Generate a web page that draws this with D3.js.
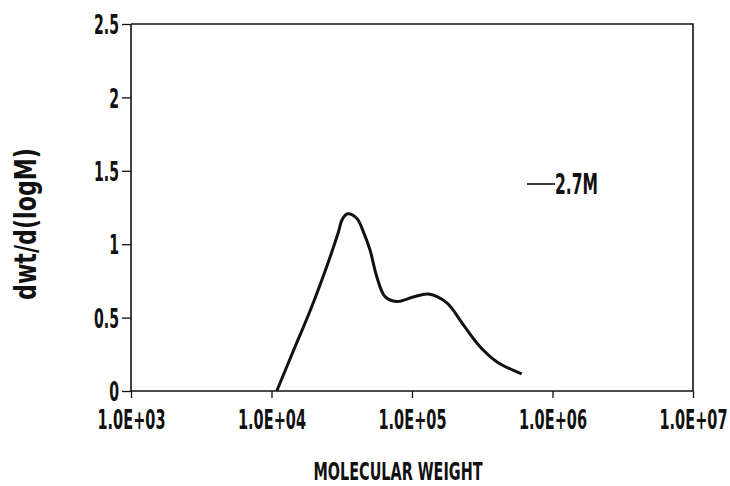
<!DOCTYPE html>
<html>
<head>
<meta charset="utf-8">
<script src="https://cdn.jsdelivr.net/npm/d3@7"></script>
<style>
body { margin: 0; background: #fff; }
text { font-family: "DejaVu Sans Condensed", "DejaVu Sans", sans-serif; fill: #111; }
</style>
</head>
<body>
<div class="gpc-plot"></div>
<script>
// molecular weight (M) and dwt/d(logM)
const molWeight = [1.09e4, 1.43e4, 1.88e4, 2.47e4, 2.98e4, 3.18e4, 3.47e4, 4.04e4, 4.50e4, 5.02e4, 5.61e4, 6.43e4, 7.78e4, 1.02e5, 1.31e5, 1.77e5, 2.32e5, 3.05e5, 4.01e5, 6.04e5];
const dwt = [0, 0.273, 0.545, 0.847, 1.076, 1.166, 1.207, 1.177, 1.086, 0.962, 0.78, 0.643, 0.61, 0.64, 0.66, 0.6, 0.45, 0.302, 0.2, 0.116];
const xTicks = [1e3, 1e4, 1e5, 1e6, 1e7];
const xTickLabels = ['1.0E+03', '1.0E+04', '1.0E+05', '1.0E+06', '1.0E+07'];
const yTicks = [0, 0.5, 1, 1.5, 2, 2.5];
const seriesName = '2.7M';

const width = 730;
const height = 486;
const margin = {top: 24, right: 37, bottom: 95, left: 131};

const svg = d3.select('.gpc-plot')
    .append('svg')
    .attr('width', width)
    .attr('height', height)

const x = d3.scaleLog()
    .domain([1e3, 1e7])
    .range([margin.left, width - margin.right])

const y = d3.scaleLinear()
    .domain([0, 2.5])
    .range([height - margin.bottom, margin.top])

// squeeze text so it looks like the narrow font of the original
function squeeze(sel, f) {
    sel.each(function () {
        const w = this.getComputedTextLength();
        d3.select(this).attr('textLength', w * f).attr('lengthAdjust', 'spacingAndGlyphs');
    })
}

// frame top + right
svg.append('path')
    .attr('d', `M${x(1e3)},${y(2.5)}H${x(1e7)}V${y(0)}`)
    .attr('fill', 'none')
    .attr('stroke', '#111')
    .attr('stroke-width', 1.6)

const xAxis = svg.append('g')
    .attr('transform', `translate(0,${y(0)})`)
    .call(d3.axisBottom(x).tickValues(xTicks).tickSize(7).tickPadding(12)
        .tickFormat((d, i) => xTickLabels[i]))

const yAxis = svg.append('g')
    .attr('transform', `translate(${x(1e3)},0)`)
    .call(d3.axisLeft(y).tickValues(yTicks).tickSize(9).tickPadding(3)
        .tickFormat(d => d3.format('')(d)))

svg.selectAll('.domain').attr('stroke', '#111').attr('stroke-width', 1.6)
svg.selectAll('.tick line').attr('stroke', '#111').attr('stroke-width', 1.3)
xAxis.selectAll('text').attr('font-size', 27).attr('font-weight', 'bold').attr('fill', '#111')
    .attr('textLength', 68).attr('lengthAdjust', 'spacingAndGlyphs')
yAxis.selectAll('text').attr('font-size', 27).attr('font-weight', 'bold').attr('fill', '#111').attr('dy', '0.36em')
    .call(squeeze, 0.58)
xAxis.select('.domain').attr('d', `M${x(1e3)},0H${x(1e7)}`)
yAxis.select('.domain').attr('d', `M0,${y(0)}V${y(2.5)}`)

const line = d3.line()
    .x((d, i) => x(molWeight[i]))
    .y(d => y(d))
    .curve(d3.curveCatmullRom.alpha(0.5))

svg.append('path')
    .datum(dwt)
    .attr('d', line)
    .attr('fill', 'none')
    .attr('stroke', '#111')
    .attr('stroke-width', 3)

// legend
svg.append('line')
    .attr('x1', 527).attr('x2', 555)
    .attr('y1', 184).attr('y2', 184)
    .attr('stroke', '#111')
    .attr('stroke-width', 1.6)

svg.append('text')
    .attr('x', 555)
    .attr('y', 194)
    .attr('font-size', 29)
    .attr('font-weight', 'bold')
    .attr('textLength', 43).attr('lengthAdjust', 'spacingAndGlyphs')
    .text(seriesName)

svg.append('text')
    .attr('x', 398)
    .attr('y', 480)
    .attr('text-anchor', 'middle')
    .attr('font-size', 25)
    .attr('font-weight', 'bold')
    .attr('textLength', 169).attr('lengthAdjust', 'spacingAndGlyphs')
    .text('MOLECULAR WEIGHT')

svg.append('text')
    .attr('transform', 'translate(36,224) rotate(-90)')
    .attr('text-anchor', 'middle')
    .attr('font-size', 30)
    .attr('font-weight', 'bold')
    .attr('textLength', 152).attr('lengthAdjust', 'spacingAndGlyphs')
    .text('dwt/d(logM)')
</script>
</body>
</html>
